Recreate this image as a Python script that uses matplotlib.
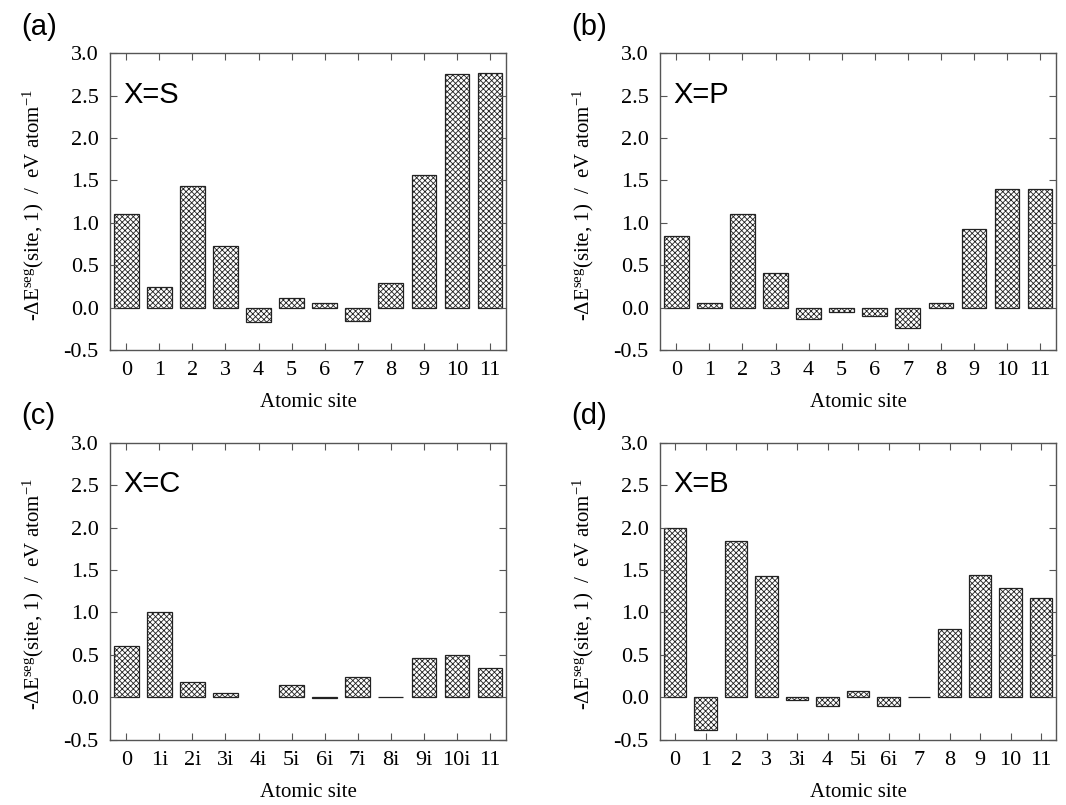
import matplotlib
matplotlib.use("Agg")
import matplotlib.pyplot as plt
import numpy as np

# site labels
sites_a = ['0', '1', '2', '3', '4', '5', '6', '7', '8', '9', '10', '11']
sites_b = sites_a
sites_c = ['0', '1i', '2i', '3i', '4i', '5i', '6i', '7i', '8i', '9i', '10i', '11']
sites_d = ['0', '1', '2', '3', '3i', '4', '5i', '6i', '7', '8', '9', '10', '11']

# -dE_seg(site, 1) in eV/atom  (4i in X=C has no bar)
vals_s = [1.11, 0.25, 1.44, 0.73, -0.17, 0.11, 0.05, -0.16, 0.29, 1.56, 2.75, 2.76]
vals_p = [0.84, 0.06, 1.11, 0.41, -0.13, -0.05, -0.10, -0.24, 0.05, 0.93, 1.40, 1.40]
vals_c = [0.60, 1.01, 0.18, 0.05, np.nan, 0.15, -0.01, 0.24, 0.005, 0.46, 0.50, 0.35]
vals_b = [1.99, -0.39, 1.84, 1.43, -0.03, -0.10, 0.08, -0.10, 0.01, 0.80, 1.44, 1.29, 1.17]

panels = [
    ('(a)', 'X=S', sites_a, vals_s),
    ('(b)', 'X=P', sites_b, vals_p),
    ('(c)', 'X=C', sites_c, vals_c),
    ('(d)', 'X=B', sites_d, vals_b),
]

plt.rcParams['font.family'] = ['Liberation Serif', 'DejaVu Serif']
plt.rcParams['mathtext.fontset'] = 'custom'
plt.rcParams['mathtext.rm'] = 'Liberation Serif'
plt.rcParams['mathtext.it'] = 'Liberation Serif:italic'
plt.rcParams['hatch.linewidth'] = 0.6
plt.rcParams['hatch.color'] = '#333333'

fig = plt.figure(figsize=(10.66, 8.05), dpi=100)
lefts = [0.103, 0.619, 0.103, 0.619]
bottoms = [0.565, 0.565, 0.081, 0.081]
w, h = 0.372, 0.369

ylab = r'-$\mathrm{\Delta}$E$^{\mathrm{seg}}$(site, 1)  /  eV atom$^{\mathrm{-1}}$'

for i, (tag, name, sites, vals) in enumerate(panels):
    ax = fig.add_axes([lefts[i], bottoms[i], w, h])
    x = np.arange(len(sites))
    ax.bar(x, vals, width=0.74, color='white', edgecolor='#222222',
           linewidth=0.9, hatch='xxxxxx')
    ax.set_xlim(-0.5, len(sites) - 0.5)
    ax.set_ylim(-0.5, 3.0)
    ax.set_xticks(x)
    ax.set_xticklabels(sites)
    yt = np.arange(-0.5, 3.01, 0.5)
    ax.set_yticks(yt)
    ax.set_yticklabels(['%.1f' % v for v in yt])
    ax.tick_params(direction='in', top=True, right=True, length=5,
                   width=0.8, labelsize=16, pad=8, color='#555555')
    for sp in ax.spines.values():
        sp.set_color('#555555')
        sp.set_linewidth(1.0)
    ax.set_xlabel('Atomic site', fontsize=15)
    ax.xaxis.set_label_coords(0.5, -0.145)
    ax.set_ylabel(ylab, fontsize=15)
    ax.yaxis.set_label_coords(-0.16, 0.49)
    ax.text(0.035, 0.86, name, transform=ax.transAxes, fontsize=21,
            family='Liberation Sans', va='center', ha='left')
    fig.text(lefts[i] - 0.083, bottoms[i] + h + 0.033, tag, fontsize=21,
             family='Liberation Sans', va='center', ha='left')

fig.savefig('out.png', dpi=100)
